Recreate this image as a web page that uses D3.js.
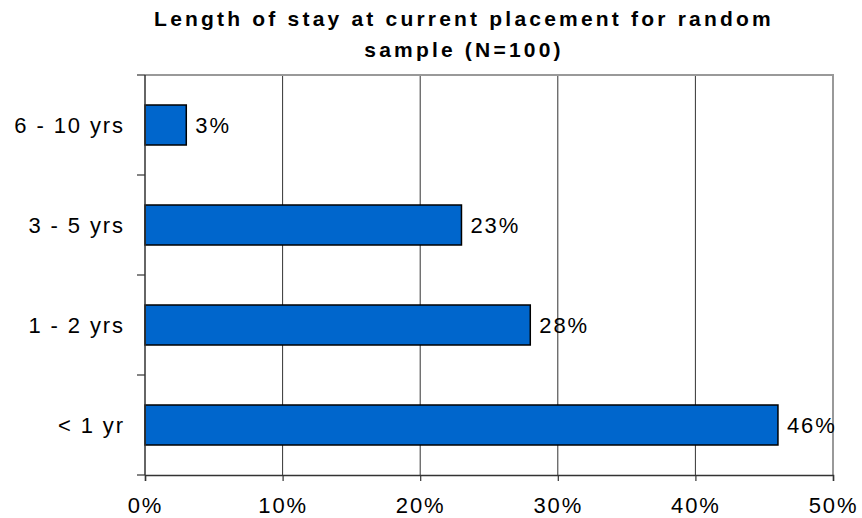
<!DOCTYPE html>
<html><head><meta charset="utf-8">
<script src="https://cdn.jsdelivr.net/npm/d3@7"></script>
<style>
body{margin:0;background:#fff;}
text{font-family:"Liberation Sans",Arial,sans-serif;}
</style></head>
<body><svg id="c" width="862" height="518"></svg>
<script>
const titleLines = ["Length of stay at current placement for random", "sample (N=100)"];
const categories = ["6 - 10 yrs", "3 - 5 yrs", "1 - 2 yrs", "< 1 yr"];
const values = [3, 23, 28, 46];
const xTicks = [0, 10, 20, 30, 40, 50];

const svg = d3.select("#c");
const m = {left:145, right:833, top:75, bottom:475};
const x = d3.scaleLinear().domain([0,50]).range([m.left, m.right]);
const y = d3.scaleBand().domain(categories).range([m.top, m.bottom]).paddingInner(0.6).paddingOuter(0.3);
const FS = "22px", LS = "1.9px";

// title
svg.append("text").attr("x", 462).attr("y", 26).attr("text-anchor","middle")
  .style("font-weight","bold").style("font-size","21px").style("letter-spacing","3.2px")
  .selectAll("tspan").data(titleLines).join("tspan")
  .attr("x",464).attr("dy",(d,i)=>i?31:0).text(d=>d);

// gridlines
svg.append("g").selectAll("line").data(xTicks.slice(1,-1)).join("line")
  .attr("x1",d=>x(d)).attr("x2",d=>x(d)).attr("y1",m.top).attr("y2",m.bottom)
  .attr("stroke","#333").attr("stroke-width",1);
// border top/right
svg.append("path").attr("d",`M${m.left},${m.top}H${m.right}V${m.bottom}`)
  .attr("fill","none").attr("stroke","#999").attr("stroke-width",2);

// bars
svg.append("g").selectAll("rect").data(values).join("rect")
  .attr("x",x(0)).attr("y",(d,i)=>y(categories[i]))
  .attr("width",d=>x(d)-x(0)).attr("height",y.bandwidth())
  .attr("fill","#0066CC").attr("stroke","#000").attr("stroke-width",1.5);

// value labels
svg.append("g").selectAll("text").data(values).join("text")
  .attr("x",d=>x(d)+9).attr("y",(d,i)=>y(categories[i])+y.bandwidth()/2)
  .attr("dy","0.35em").style("font-size",FS).style("letter-spacing",LS)
  .text(d=>d+"%");

// x axis
const xAxis = d3.axisBottom(x).tickValues(xTicks).tickFormat(d=>d+"%").tickSize(6).tickPadding(16);
const gx = svg.append("g").attr("transform",`translate(0,${m.bottom})`).call(xAxis);
gx.select(".domain").attr("stroke","#333").attr("stroke-width",1.5);
gx.selectAll(".tick line").attr("stroke","#333").attr("stroke-width",1.2);
gx.selectAll("text").style("font-size",FS).style("letter-spacing",LS)
  .attr("fill","#000").style("font-family","'Liberation Sans',Arial,sans-serif");

// y axis
const yEdges = d3.range(categories.length+1).map(i=>m.top + i*y.step());
const gy = svg.append("g");
gy.append("line").attr("x1",m.left).attr("x2",m.left).attr("y1",m.top).attr("y2",m.bottom)
  .attr("stroke","#333").attr("stroke-width",1.5);
gy.selectAll("line.tk").data(yEdges).join("line").attr("class","tk")
  .attr("x1",m.left-8).attr("x2",m.left).attr("y1",d=>d).attr("y2",d=>d)
  .attr("stroke","#333").attr("stroke-width",1.2);
gy.selectAll("text").data(categories).join("text")
  .attr("x",125).attr("y",d=>y(d)+y.bandwidth()/2).attr("dy","0.35em")
  .attr("text-anchor","end").style("font-size",FS).style("letter-spacing",LS)
  .text(d=>d);
</script></body></html>
